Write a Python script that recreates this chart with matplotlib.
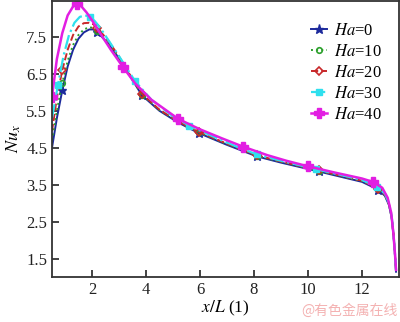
import matplotlib
matplotlib.use("Agg")
import matplotlib.pyplot as plt

plt.rcParams['font.family'] = ['Liberation Serif', 'DejaVu Serif']
plt.rcParams['mathtext.fontset'] = 'stix'

# Ha = 0, 10, 20 share x samples
x_a = [0.52, 0.7, 0.9, 1.1, 1.3, 1.5, 1.7, 1.9, 2.05, 2.2, 2.6, 3.0, 3.4, 3.85, 4.5, 5.2,
       5.95, 7.0, 8.1, 9.0, 10.4, 11.2, 12.0, 12.6, 12.85, 13.0, 13.1, 13.17, 13.22, 13.26]
ha0 = [4.5, 5.3, 6.05, 6.7, 7.15, 7.45, 7.62, 7.7, 7.7, 7.63, 7.32, 6.92, 6.45, 5.92, 5.5, 5.18,
       4.9, 4.58, 4.27, 4.1, 3.86, 3.72, 3.58, 3.37, 3.2, 2.95, 2.6, 2.1, 1.6, 1.15]
ha10 = [4.7, 5.5, 6.25, 6.85, 7.28, 7.55, 7.7, 7.76, 7.74, 7.66, 7.34, 6.93, 6.46, 5.94, 5.52, 5.2,
        4.92, 4.6, 4.29, 4.12, 3.88, 3.74, 3.6, 3.39, 3.22, 2.97, 2.62, 2.12, 1.62, 1.17]
ha20 = [4.95, 5.85, 6.6, 7.15, 7.55, 7.78, 7.87, 7.88, 7.84, 7.74, 7.4, 6.97, 6.48, 5.96, 5.53, 5.21,
        4.93, 4.61, 4.3, 4.13, 3.89, 3.75, 3.61, 3.4, 3.23, 2.98, 2.63, 2.13, 1.63, 1.18]
marks_a = [2, 9, 13, 16, 18, 20, 23]

x_30 = [0.52, 0.74, 0.95, 1.15, 1.35, 1.55, 1.75, 1.93, 2.1, 2.3, 2.6, 3.0, 3.6, 4.2, 5.0, 5.6,
        6.5, 7.3, 8.1, 9.0, 10.3, 11.2, 12.0, 12.55, 12.85, 13.0, 13.1, 13.17, 13.22, 13.26]
ha30 = [5.3, 6.2, 7.0, 7.55, 7.88, 8.04, 8.08, 8.04, 7.93, 7.75, 7.42, 6.98, 6.3, 5.8, 5.35, 5.1,
        4.8, 4.55, 4.32, 4.15, 3.92, 3.77, 3.63, 3.45, 3.26, 3.0, 2.65, 2.15, 1.65, 1.2]
marks_30 = [1, 7, 12, 15, 18, 20, 23]

x_40 = [0.52, 0.7, 0.9, 1.1, 1.3, 1.45, 1.6, 1.8, 2.0, 2.3, 2.7, 3.15, 3.6, 4.2, 5.2, 6.0,
        6.8, 7.6, 8.5, 9.2, 10.0, 11.0, 12.0, 12.4, 12.75, 12.95, 13.08, 13.16, 13.22, 13.26]
ha40 = [5.88, 6.9, 7.6, 8.08, 8.32, 8.38, 8.33, 8.16, 7.95, 7.6, 7.15, 6.68, 6.24, 5.8, 5.28, 5.0,
        4.76, 4.53, 4.3, 4.15, 4.0, 3.83, 3.67, 3.58, 3.42, 3.15, 2.75, 2.2, 1.65, 1.2]
marks_40 = [0, 5, 11, 14, 17, 20, 23]

labels = ['0', '10', '20', '30', '40']
xticks = [2, 4, 6, 8, 10, 12]
yticks = [1.5, 2.5, 3.5, 4.5, 5.5, 6.5, 7.5]

fig = plt.figure(figsize=(4, 3.22), dpi=100)
ax = fig.add_axes([0.13, 0.14, 0.8675, 0.857])

ax.plot(x_a, ha0, color='#1c2a9c', ls='-', lw=1.4, marker='*', ms=6.5, markevery=marks_a,
        label=r'$Ha$=' + labels[0])
ax.plot(x_a, ha10, color='#2ca02c', ls=':', lw=1.4, marker='o', ms=4, mfc='none', mew=1.2,
        markevery=marks_a, label=r'$Ha$=' + labels[1])
ax.plot(x_a, ha20, color='#c8282a', ls='--', lw=1.4, marker='D', ms=4, mfc='none', mew=1.2,
        markevery=marks_a, label=r'$Ha$=' + labels[2])
ax.plot(x_30, ha30, color='#2fe0ee', ls='-.', lw=1.6, marker='s', ms=4.5,
        markevery=marks_30, label=r'$Ha$=' + labels[3])
ax.plot(x_40, ha40, color='#e21ee2', ls='-', lw=1.8, marker='P', ms=6.5,
        markevery=marks_40, label=r'$Ha$=' + labels[4])

ax.set_xlim(0.52, 13.37)
ax.set_ylim(1.01, 8.47)
ax.set_xticks(xticks)
ax.set_yticks(yticks)
ax.set_xticklabels([str(t) for t in xticks])
ax.set_yticklabels([str(t) for t in yticks])
ax.tick_params(direction='in', length=5, width=1.2, labelsize=12, colors='#222222')
for s in ax.spines.values():
    s.set_color('#333333')
    s.set_linewidth(1.3)

ax.set_xlabel(r'$x/L$ (1)', fontsize=12.5, labelpad=1)
ax.set_ylabel(r'$Nu_x$', fontsize=13, labelpad=2)

ax.legend(loc='upper right', frameon=False, fontsize=12, handlelength=0.95,
          handletextpad=0.45, labelspacing=0.3, bbox_to_anchor=(0.995, 0.975))

fig.text(0.995, 0.012, '@有色金属在线', color='#f4b2b2', fontsize=10, ha='right', va='bottom',
         family=['Noto Sans CJK SC', 'DejaVu Sans'])

fig.savefig('out.png', dpi=100)
